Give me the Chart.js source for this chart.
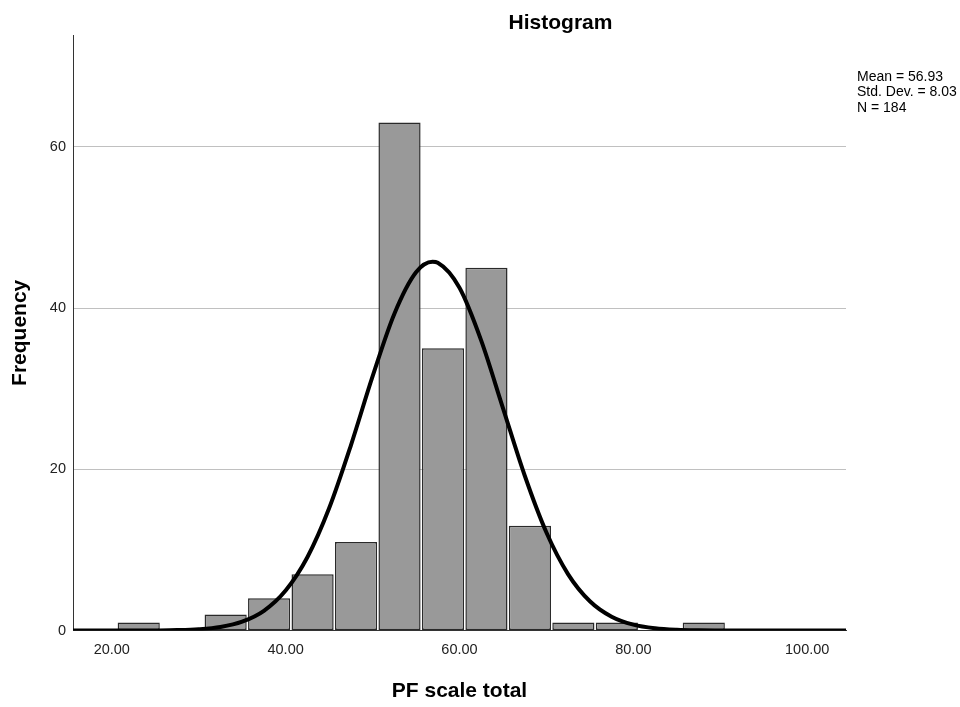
<!DOCTYPE html>
<html>
<head>
<meta charset="utf-8">
<script src="https://cdn.jsdelivr.net/npm/chart.js@4/dist/chart.umd.min.js"></script>
<style>
html, body { margin: 0; padding: 0; background: #fff; }
</style>
</head>
<body>
<canvas id="histogram" width="960" height="707"></canvas>
<script>
// histogram bins (centre of each bin) and counts
const binCenters = [23.1, 28.1, 33.1, 38.1, 43.1, 48.1, 53.1, 58.1, 63.1, 68.1, 73.1, 78.1, 83.1, 88.1];
const binCounts = [1, 0, 2, 4, 7, 11, 63, 35, 45, 13, 1, 1, 0, 1];

// fitted normal curve
const curveX = [15.5, 17.5, 20, 22.5, 25, 27.5, 30, 32.5, 35, 37.5, 40, 42.5, 45, 47.5, 50, 52.5, 55, 56.9, 57.5, 60, 62.5, 65, 67.5, 70, 72.5, 75, 77.5, 80, 82.5, 85, 87.5, 90, 92.5, 95, 97.5, 100, 102.5, 104.5];
const curveY = [0, 0, 0, 0, 0.02, 0.06, 0.17, 0.45, 1.1, 2.45, 4.96, 9.09, 15.16, 22.95, 31.51, 39.26, 44.42, 45.72, 45.6, 42.5, 35.95, 27.59, 19.23, 12.16, 6.98, 3.64, 1.72, 0.74, 0.29, 0.1, 0.03, 0.01, 0, 0, 0, 0, 0, 0];

const xTicks = [20, 40, 60, 80, 100];
const yTicks = [0, 20, 40, 60];
const chartTitle = 'Histogram';
const stats = ['Mean = 56.93', 'Std. Dev. = 8.03', 'N = 184'];

const FONT = '"Liberation Sans", Arial, sans-serif';

const textPlugin = {
    id: 'spssText',
    afterDraw(chart) {
        const ctx = chart.ctx;
        ctx.save();
        ctx.fillStyle = '#000';
        ctx.textBaseline = 'alphabetic';
        ctx.font = 'bold 21px ' + FONT;
        ctx.textAlign = 'center';
        ctx.fillText(chartTitle, 560.5, 29);
        ctx.font = '14px ' + FONT;
        ctx.textAlign = 'left';
        stats.forEach((s, i) => ctx.fillText(s, 857, 81 + i * 15.4));
        ctx.restore();
    }
};

const ctx = document.getElementById('histogram').getContext('2d');

new Chart(ctx, {
    type: 'bar',
    data: {
        datasets: [{
            type: 'line',
            data: curveX.map((x, i) => ({x: x, y: curveY[i]})),
            borderColor: '#000',
            borderWidth: 4,
            pointRadius: 0,
            cubicInterpolationMode: 'monotone',
            fill: false,
            order: 0
        }, {
            type: 'bar',
            data: binCenters.map((x, i) => ({x: x, y: binCounts[i]})),
            backgroundColor: '#999999',
            borderColor: '#2a2a2a',
            borderWidth: 1.5,
            borderSkipped: false,
            barPercentage: 0.97,
            categoryPercentage: 1,
            order: 1
        }]
    },
    options: {
        responsive: false,
        animation: false,
        devicePixelRatio: 1,
        layout: { padding: { top: 35, right: 114, left: 0, bottom: 0 } },
        plugins: {
            legend: { display: false },
            tooltip: { enabled: false }
        },
        scales: {
            x: {
                type: 'linear',
                min: 15.54,
                max: 104.46,
                offset: false,
                afterBuildTicks: s => { s.ticks = xTicks.map(v => ({value: v})); },
                afterFit: s => { s.height = 76.4; },
                grid: { display: false, drawTicks: false },
                border: { display: true, color: '#333', width: 1 },
                ticks: {
                    padding: 11,
                    color: '#222',
                    font: { family: FONT, size: 14.5 },
                    maxRotation: 0,
                    callback: v => Number(v).toFixed(2)
                },
                title: {
                    display: true,
                    text: 'PF scale total',
                    color: '#000',
                    font: { family: FONT, size: 21, weight: 'bold' },
                    padding: { top: 0, bottom: 3 }
                }
            },
            y: {
                min: 0,
                max: 73.85,
                afterBuildTicks: s => { s.ticks = yTicks.map(v => ({value: v})); },
                afterFit: s => { s.width = 73; },
                grid: {
                    drawTicks: false,
                    color: c => c.tick && c.tick.value === 0 ? 'rgba(0,0,0,0)' : '#c0c0c0',
                    lineWidth: 1
                },
                border: { display: true, color: '#333', width: 1 },
                ticks: {
                    padding: 7,
                    color: '#222',
                    font: { family: FONT, size: 14.5 }
                },
                title: {
                    display: true,
                    text: 'Frequency',
                    color: '#000',
                    font: { family: FONT, size: 21, weight: 'bold' },
                    padding: { top: 7.5, bottom: 0 }
                }
            }
        }
    },
    plugins: [textPlugin]
});
</script>
</body>
</html>
